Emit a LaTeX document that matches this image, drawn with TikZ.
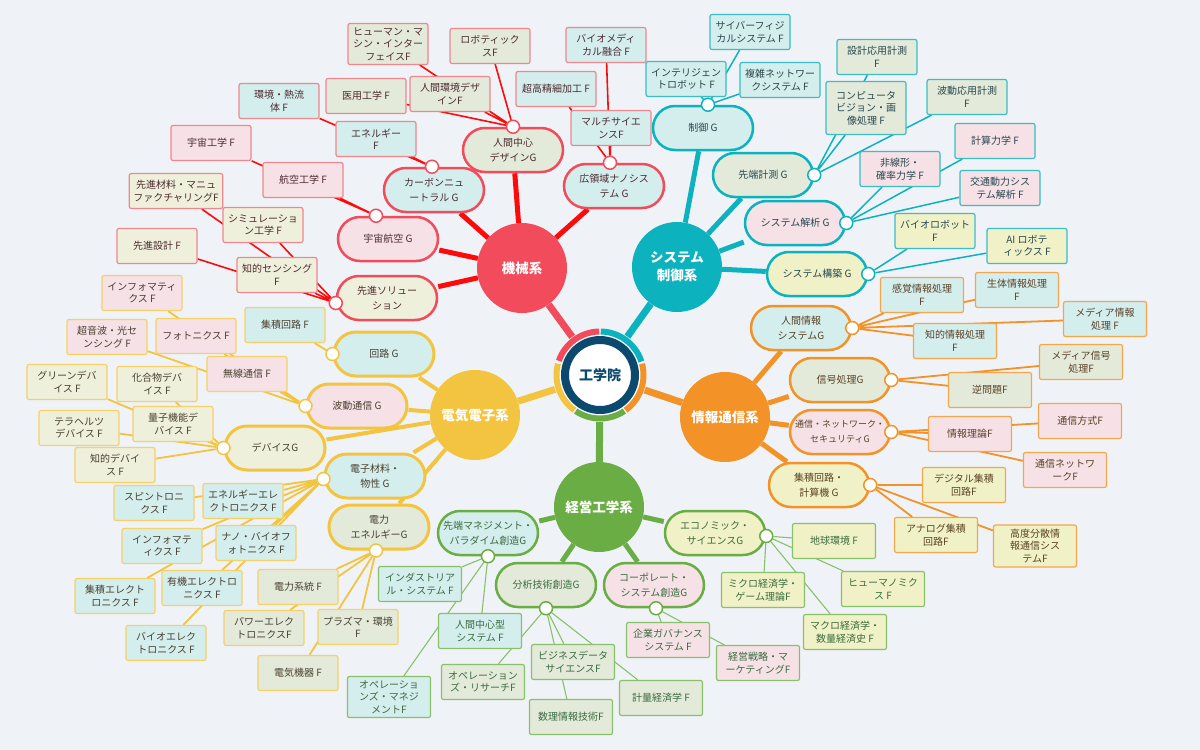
\documentclass[tikz,border=0pt]{standalone}
\usepackage{fontspec}
\setmainfont{Noto Sans CJK JP}
\usetikzlibrary{backgrounds}

\definecolor{bgC}{HTML}{EFF3F7}
\definecolor{ringC}{HTML}{0B4A6E}
\definecolor{mechC}{HTML}{F24B5B}
\definecolor{mechL}{HTML}{F0868E}
\definecolor{mechW}{HTML}{FF0A0A}
\definecolor{mechT}{HTML}{4E2A30}
\definecolor{sysC}{HTML}{0CB3BE}
\definecolor{sysL}{HTML}{3ABDC5}
\definecolor{sysT}{HTML}{27474F}
\definecolor{infC}{HTML}{F39226}
\definecolor{infL}{HTML}{F5A64C}
\definecolor{infT}{HTML}{5A4226}
\definecolor{mgtC}{HTML}{6BAD45}
\definecolor{mgtL}{HTML}{88C16A}
\definecolor{mgtT}{HTML}{3A6B3E}
\definecolor{eleC}{HTML}{F3C43F}
\definecolor{eleL}{HTML}{F5D166}
\definecolor{eleT}{HTML}{4A4030}
\definecolor{fA}{HTML}{E3EAD9}
\definecolor{fB}{HTML}{D4EDED}
\definecolor{fC}{HTML}{F5E1E6}
\definecolor{fD}{HTML}{EEF0DC}
\definecolor{fE}{HTML}{F0F1C6}

\begin{document}
\begin{tikzpicture}[x=1pt, y=1pt,
  dept/.style={circle, fill=#1, minimum size=90pt, text=white, align=center, font=\fontsize{13.5}{18}\selectfont\bfseries},
  grp/.style={rectangle, rounded corners=22pt, minimum width=100pt, minimum height=44pt, inner sep=3pt, line width=2.5pt, align=center, font=\fontsize{10}{15}\selectfont},
  leaf/.style={rectangle, rounded corners=2pt, minimum width=80pt, minimum height=35pt, inner sep=4pt, line width=1.2pt, align=center, font=\fontsize{10}{12.5}\selectfont},
  hub/.style={circle, draw=#1, fill=white, line width=1.5pt, minimum size=13pt, inner sep=0pt},
  mechG/.style={grp, draw=mechC, text=mechT, fill=#1},
  mechF/.style={leaf, draw=mechL, text=mechT, fill=#1},
  sysG/.style={grp, draw=sysC, text=sysT, fill=#1},
  sysF/.style={leaf, draw=sysL, text=sysT, fill=#1},
  infG/.style={grp, draw=infC, text=infT, fill=#1},
  infF/.style={leaf, draw=infL, text=infT, fill=#1, minimum width=83pt},
  mgtG/.style={grp, draw=mgtC, text=mgtT, fill=#1},
  mgtF/.style={leaf, draw=mgtL, text=mgtT, fill=#1, minimum width=83pt},
  eleG/.style={grp, draw=eleC, text=eleT, fill=#1, line width=3pt},
  eleF/.style={leaf, draw=eleL, text=eleT, fill=#1},
]
\useasboundingbox (0,0) rectangle (1200,-750);

% core
\node[circle, minimum size=94pt] (gakuin) at (600,-375) {};
\fill[white] (gakuin.center) circle (40.5);
\draw[line width=6pt, sysC] (gakuin.center) ++(18:43.5) arc (18:89:43.5);
\draw[line width=6pt, mechC] (gakuin.center) ++(91:43.5) arc (91:161:43.5);
\draw[line width=6pt, eleC] (gakuin.center) ++(165:43.5) arc (165:234:43.5);
\draw[line width=6pt, mgtC] (gakuin.center) ++(236:43.5) arc (236:304:43.5);
\draw[line width=6pt, infC] (gakuin.center) ++(306:43.5) arc (306:375:43.5);
\node[circle, draw=ringC, line width=8pt, fill=white, minimum size=70pt, text=ringC, font=\fontsize{14}{16}\selectfont\bfseries] (core) at (600,-375) {工学院};

% departments
\node[dept=mechC] (kikai) at (522,-268) {機械系};
\node[dept=sysC] (seigyo) at (677,-267) {システム\\制御系};
\node[dept=infC] (joho) at (725,-417) {情報通信系};
\node[dept=mgtC] (keiei) at (599,-507) {経営工学系};
\node[dept=eleC] (denki) at (475,-415) {電気電子系};

% 機械系
\node[mechG=fA] (ningen) at (513,-150) {人間中心\\デザインG};
\node[mechG=fB] (nano) at (614,-186) {広領域ナノシス\\テム G};
\node[mechG=fB] (carbon) at (434,-190) {カーボンニュ\\ートラル G};
\node[mechG=fC] (uchu) at (388,-239) {宇宙航空 G};
\node[mechG=fD] (sol) at (387,-298) {先進ソリュー\\ション};

\node[mechF=fA] (hmi) at (388,-44) {ヒューマン・マ\\シン・インター\\フェイスF};
\node[mechF=fA] (robo) at (490,-46) {ロボティック\\スF};
\node[mechF=fA] (kankyo) at (450,-94) {人間環境デザ\\インF};
\node[mechF=fA] (iyo) at (366,-96) {医用工学 F};
\node[mechF=fB] (biomed) at (606,-45) {バイオメディ\\カル融合 F};
\node[mechF=fB] (chokou) at (556,-89) {超高精細加工 F};
\node[mechF=fB] (multi) at (611,-128) {マルチサイエ\\ンスF};
\node[mechF=fB] (enef) at (376,-139) {エネルギー\\F};
\node[mechF=fB] (netsu) at (279,-101) {環境・熱流\\体 F};
\node[mechF=fC] (koku) at (303,-180) {航空工学 F};
\node[mechF=fC] (uchuko) at (211,-143) {宇宙工学 F};
\node[mechF=fD, minimum width=90pt] (manuf) at (176,-191) {先進材料・マニュ\\ファクチャリングF};
\node[mechF=fD] (simu) at (263,-225) {シミュレーショ\\ン工学 F};
\node[mechF=fD] (sekkei) at (157,-246) {先進設計 F};
\node[mechF=fD] (sensing) at (277,-275) {知的センシング\\F};

\node[hub=mechC] (hningen) at (ningen.north) {};
\node[hub=mechC] (hnano) at ([xshift=-4pt]nano.north) {};
\node[hub=mechC] (hcarbon) at ([xshift=-2pt]carbon.north) {};
\node[hub=mechC] (huchu) at ([xshift=-12pt]uchu.north) {};
\node[hub=mechC] (hsol) at ([yshift=-5pt]sol.west) {};

% システム制御系
\node[sysG=fB] (ctrl) at (703,-128) {制御 G};
\node[sysG=fA] (keisoku) at (763,-175) {先端計測 G};
\node[sysG=fC] (kaiseki) at (795,-223) {システム解析 G};
\node[sysG=fE] (kochiku) at (817,-274) {システム構築 G};

\node[sysF=fB] (cps) at (750,-32) {サイバーフィジ\\カルシステム F};
\node[sysF=fB] (irobot) at (686,-79) {インテリジェン\\トロボット F};
\node[sysF=fB] (fukuzatsu) at (780,-80) {複雑ネットワー\\クシステム F};
\node[sysF=fA] (sekkeik) at (877,-57) {設計応用計測\\F};
\node[sysF=fA, minimum height=53pt] (vision) at (866,-108) {コンピュータ\\ビジョン・画\\像処理 F};
\node[sysF=fA] (hadok) at (967,-97) {波動応用計測\\F};
\node[sysF=fC] (hisen) at (900,-169) {非線形・\\確率力学 F};
\node[sysF=fC] (keisan) at (995,-141) {計算力学 F};
\node[sysF=fC] (kotsu) at (1000,-188) {交通動力シス\\テム解析 F};
\node[sysF=fE] (biorobo) at (935,-231) {バイオロボット\\F};
\node[sysF=fE] (airobo) at (1027,-246) {AI ロボテ\\ィックス F};

\node[hub=sysC] (hctrl) at ([xshift=5pt]ctrl.north) {};
\node[hub=sysC] (hkeisoku) at (keisoku.east) {};
\node[hub=sysC] (hkaiseki) at (kaiseki.east) {};
\node[hub=sysC] (hkochiku) at (kochiku.east) {};

% 情報通信系
\node[infG=fB] (hinfo) at (801,-328) {人間情報\\システムG};
\node[infG=fA] (shingo) at (840,-380) {信号処理G};
\node[infG=fC, font=\fontsize{9}{15}\selectfont] (tsushin) at (840,-432) {通信・ネットワーク・\\セキュリティG};
\node[infG=fE] (vlsi) at (819,-485) {集積回路・\\計算機 G};

\node[infF=fB] (kankaku) at (922,-295) {感覚情報処理\\F};
\node[infF=fB] (seitai) at (1017,-290) {生体情報処理\\F};
\node[infF=fB] (mediajoho) at (1105,-319) {メディア情報\\処理 F};
\node[infF=fB] (chiteki) at (955,-341) {知的情報処理\\F};
\node[infF=fA] (mediashingo) at (1081,-362) {メディア信号\\処理F};
\node[infF=fA] (gyaku) at (990,-390) {逆問題F};
\node[infF=fC] (riron) at (970,-434) {情報理論F};
\node[infF=fC] (hoshiki) at (1080,-421) {通信方式F};
\node[infF=fC] (tsunet) at (1065,-470) {通信ネットワ\\ークF};
\node[infF=fE] (digital) at (964,-485) {デジタル集積\\回路F};
\node[infF=fE] (analog) at (936,-535) {アナログ集積\\回路F};
\node[infF=fE] (bunsan) at (1035,-546) {高度分散情\\報通信シス\\テムF};

\node[hub=infC] (hhinfo) at (hinfo.east) {};
\node[hub=infC] (hshingo) at (shingo.east) {};
\node[hub=infC] (htsushin) at (tsushin.east) {};
\node[hub=infC] (hvlsi) at (vlsi.east) {};

% 経営工学系
\node[mgtG=fB] (sentan) at (488,-533) {先端マネジメント・\\パラダイム創造G};
\node[mgtG=fA] (bunseki) at (546,-585) {分析技術創造G};
\node[mgtG=fC] (corp) at (654,-585) {コーポレート・\\システム創造G};
\node[mgtG=fE] (econ) at (715,-533) {エコノミック・\\サイエンスG};

\node[mgtF=fB] (industrial) at (420,-584) {インダストリア\\ル・システム F};
\node[mgtF=fB] (ningengata) at (480,-631) {人間中心型\\システム F};
\node[mgtF=fB] (opm) at (389,-697) {オペレーショ\\ンズ・マネジ\\メントF};
\node[mgtF=fA] (opr) at (483,-682) {オペレーション\\ズ・リサーチF};
\node[mgtF=fA] (bizdata) at (573,-662) {ビジネスデータ\\サイエンスF};
\node[mgtF=fA] (suri) at (571,-717) {数理情報技術F};
\node[mgtF=fA] (keiryo) at (661,-698) {計量経済学 F};
\node[mgtF=fC] (governance) at (668,-640) {企業ガバナンス\\システム F};
\node[mgtF=fC] (senryaku) at (758,-663) {経営戦略・マ\\ーケティングF};
\node[mgtF=fE] (chikyu) at (834,-541) {地球環境 F};
\node[mgtF=fE] (micro) at (763,-590) {ミクロ経済学・\\ゲーム理論F};
\node[mgtF=fE] (humanomics) at (883,-589) {ヒューマノミク\\ス F};
\node[mgtF=fE] (macro) at (845,-632) {マクロ経済学・\\数量経済史 F};

\node[hub=mgtC] (hsentan) at (sentan.south) {};
\node[hub=mgtC] (hbunseki) at (bunseki.south) {};
\node[hub=mgtC] (hcorp) at ([xshift=2pt]corp.south) {};
\node[hub=mgtC] (hecon) at ([yshift=-3pt]econ.east) {};

% 電気電子系
\node[eleG=fB] (kairo) at (384,-354) {回路 G};
\node[eleG=fC] (hado) at (357,-406) {波動通信 G};
\node[eleG=fD] (device) at (275,-448) {デバイスG};
\node[eleG=fB] (zairyo) at (375,-476) {電子材料・\\物性 G};
\node[eleG=fA] (denryoku) at (379,-527) {電力\\エネルギーG};

\node[eleF=fB] (shusekik) at (285,-325) {集積回路 F};
\node[eleF=fC] (musen) at (247,-374) {無線通信 F};
\node[eleF=fC] (photo) at (196,-336) {フォトニクス F};
\node[eleF=fC] (infoh) at (142,-293) {インフォマティ\\クス F};
\node[eleF=fC] (onpa) at (107,-337) {超音波・光セ\\ンシング F};
\node[eleF=fD] (kagobutsu) at (157,-384) {化合物デバ\\イス F};
\node[eleF=fD] (greendev) at (67,-382) {グリーンデバ\\イス F};
\node[eleF=fD] (ryoshi) at (173,-424) {量子機能デ\\バイス F};
\node[eleF=fD] (terahz) at (79,-428) {テラヘルツ\\デバイス F};
\node[eleF=fD] (chitekid) at (115,-465) {知的デバイ\\ス F};
\node[eleF=fB] (enele) at (243,-501) {エネルギーエレ\\クトロニクス F};
\node[eleF=fB] (spin) at (154,-503) {スピントロニ\\クス F};
\node[eleF=fB] (nanobio) at (256,-543) {ナノ・バイオフ\\ォトニクス F};
\node[eleF=fB] (infoz) at (162,-546) {インフォマテ\\ィクス F};
\node[eleF=fB] (yuki) at (202,-588) {有機エレクトロ\\ニクス F};
\node[eleF=fB] (shusekie) at (115,-596) {集積エレクト\\ロニクス F};
\node[eleF=fB] (bioele) at (166,-643) {バイオエレク\\トロニクス F};
\node[eleF=fA] (keito) at (298,-587) {電力系統 F};
\node[eleF=fA] (power) at (264,-628) {パワーエレク\\トロニクスF};
\node[eleF=fA] (plasma) at (358,-627) {プラズマ・環境\\F};
\node[eleF=fA] (kiki) at (298,-673) {電気機器 F};

\node[hub=eleC] (hkairo) at (kairo.west) {};
\node[hub=eleC] (hhado) at (hado.west) {};
\node[hub=eleC] (hdevice) at (device.west) {};
\node[hub=eleC] (hzairyo) at ([yshift=-3pt]zairyo.west) {};
\node[hub=eleC] (hdenryoku) at ([xshift=-3pt]denryoku.south) {};

\begin{scope}[on background layer]
\fill[bgC] (0,0) rectangle (1200,-750);
% core to departments
\draw[line width=7pt, mechC] (gakuin) -- (kikai);
\draw[line width=7pt, sysC] (gakuin) -- (seigyo);
\draw[line width=7pt, infC] (gakuin) -- (joho);
\draw[line width=7pt, mgtC] (gakuin) -- (keiei);
\draw[line width=7pt, eleC] (gakuin) -- (denki);
% departments to groups
\draw[line width=5pt, mechW] (kikai) -- (ningen) (kikai) -- (nano) (kikai) -- (carbon) (kikai) -- (uchu) (kikai) -- (sol);
\draw[line width=5pt, sysC] (seigyo) -- (ctrl) (seigyo) -- (keisoku) (seigyo) -- (kaiseki) (seigyo) -- (kochiku);
\draw[line width=5pt, infC] (joho) -- (hinfo) (joho) -- (shingo) (joho) -- (tsushin) (joho) -- (vlsi);
\draw[line width=5pt, mgtC] (keiei) -- (sentan) (keiei) -- (bunseki) (keiei) -- (corp) (keiei) -- (econ);
\draw[line width=4pt, eleC] (denki) -- (kairo) (denki) -- (hado) (denki) -- (device) (denki) -- (zairyo) (denki) -- (denryoku);
% groups to fields
\draw[line width=1.6pt, mechW] (hningen) -- (hmi) (hningen) -- (robo) (hningen) -- (kankyo) (hningen) -- (iyo);
\draw[line width=1.6pt, mechW] (hnano) -- (biomed) (hnano) -- (chokou) (hnano) -- (multi);
\draw[line width=1.6pt, mechW] (hcarbon) -- (enef) (hcarbon) -- (netsu);
\draw[line width=1.6pt, mechW] (huchu) -- (koku) (huchu) -- (uchuko);
\draw[line width=1.6pt, mechW] (hsol) -- (manuf) (hsol) -- (simu) (hsol) -- (sekkei) (hsol) -- (sensing);
\draw[line width=1.5pt, sysC] (hctrl) -- (cps) (hctrl) -- (irobot) (hctrl) -- (fukuzatsu);
\draw[line width=1.5pt, sysC] (hkeisoku) -- (sekkeik) (hkeisoku) -- (vision) (hkeisoku) -- (hadok);
\draw[line width=1.5pt, sysC] (hkaiseki) -- (hisen) (hkaiseki) -- (keisan) (hkaiseki) -- (kotsu);
\draw[line width=1.5pt, sysC] (hkochiku) -- (biorobo) (hkochiku) -- (airobo);
\draw[line width=1.8pt, infC] (hhinfo) -- (kankaku) (hhinfo) -- (seitai) (hhinfo) -- (mediajoho) (hhinfo) -- (chiteki);
\draw[line width=1.8pt, infC] (hshingo) -- (mediashingo) (hshingo) -- (gyaku);
\draw[line width=1.8pt, infC] (htsushin) -- (riron) (htsushin) -- (hoshiki) (htsushin) -- (tsunet);
\draw[line width=1.8pt, infC] (hvlsi) -- (digital) (hvlsi) -- (analog) (hvlsi) -- (bunsan);
\draw[line width=1.1pt, mgtL] (hsentan) -- (industrial) (hsentan) -- (ningengata) (hsentan) -- (opm);
\draw[line width=1.1pt, mgtL] (hbunseki) -- (opr) (hbunseki) -- (bizdata) (hbunseki) -- (suri) (hbunseki) -- (keiryo);
\draw[line width=1.1pt, mgtL] (hcorp) -- (governance) (hcorp) -- (senryaku);
\draw[line width=1.1pt, mgtL] (hecon) -- (chikyu) (hecon) -- (micro) (hecon) -- (humanomics) (hecon) -- (macro);
\draw[line width=1.8pt, eleC] (hkairo) -- (shusekik);
\draw[line width=1.8pt, eleC] (hhado) -- (musen) (hhado) -- (photo) (hhado) -- (infoh) (hhado) -- (onpa);
\draw[line width=1.8pt, eleC] (hdevice) -- (kagobutsu) (hdevice) -- (greendev) (hdevice) -- (ryoshi) (hdevice) -- (terahz) (hdevice) -- (chitekid);
\draw[line width=1.8pt, eleC] (hzairyo) -- (enele) (hzairyo) -- (spin) (hzairyo) -- (nanobio) (hzairyo) -- (infoz) (hzairyo) -- (yuki) (hzairyo) -- (shusekie) (hzairyo) -- (bioele);
\draw[line width=1.8pt, eleC] (hdenryoku) -- (keito) (hdenryoku) -- (power) (hdenryoku) -- (plasma) (hdenryoku) -- (kiki);
\end{scope}
\end{tikzpicture}
\end{document}
